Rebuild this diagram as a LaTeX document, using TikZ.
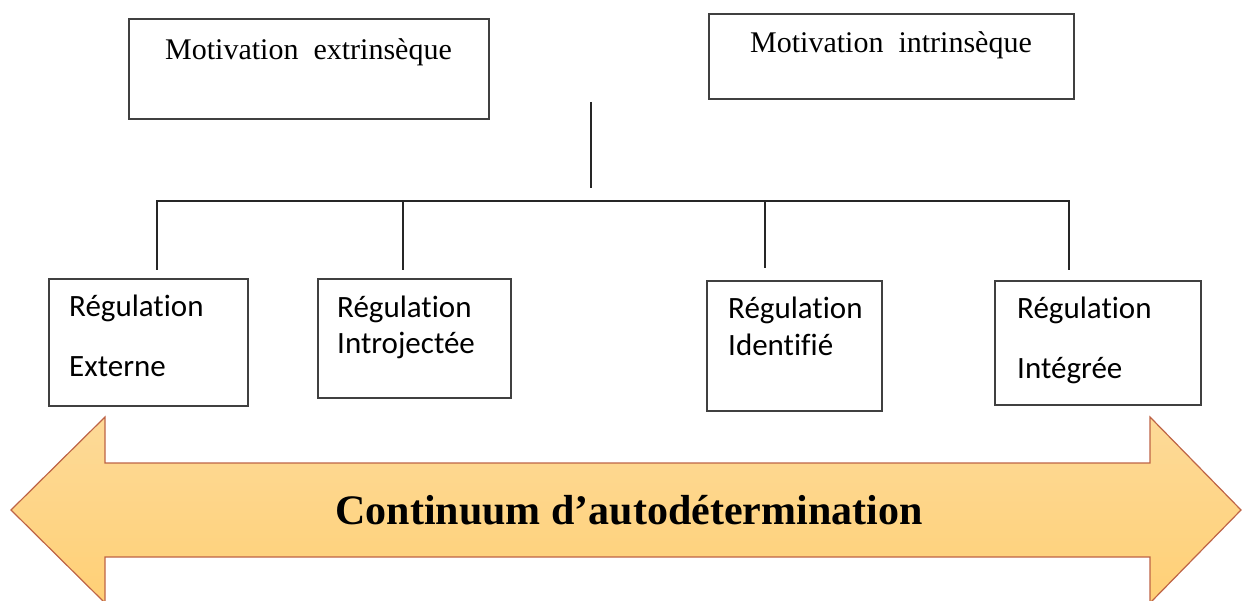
\documentclass[tikz,border=0pt]{standalone}
\usepackage{fontspec}
\setmainfont{Liberation Serif}
\newfontfamily\calibfont[Ligatures=NoCommon]{Carlito}
\definecolor{arrowtop}{RGB}{253,218,152}
\definecolor{arrowbottom}{RGB}{255,208,118}
\definecolor{arrowedge}{RGB}{190,100,70}
\begin{document}
\begin{tikzpicture}
[x=1pt,y=-1pt,
  boxdecorate/.style={draw=black!75,line width=1.6pt,anchor=north west,inner sep=0pt},%
  linedecorate/.style={-,line width=1.6pt,draw=black!85},%
  topfont/.style={font=\fontsize{30}{36}\selectfont,anchor=base west,inner sep=0pt},%
  regfont/.style={font=\calibfont\fontsize{31}{37}\selectfont,anchor=base west,inner sep=0pt,align=left},%
  arrowdecorate/.style={draw=arrowedge,line width=1.2pt,top color=arrowtop,bottom color=arrowbottom}]
\useasboundingbox (0,0) rectangle (1242,601);
%% boxes
\foreach \nodename/\x/\y/\w/\h in {
  mext/128/18/360/100, mint/708/13/365/85,
  rext/48/278/199/127, rintro/317/278/193/119,
  rident/706/280/175/130, rinteg/994/280/206/124}
{
  \node (\nodename) at (\x,\y) [boxdecorate,minimum width=\w pt,minimum height=\h pt] {};
}
%% texts (placed at the baseline of the second line)
\node (mexttext) at (165,60) [topfont] {Motivation\ \ extrinsèque};
\node (minttext) at (750,53) [topfont] {Motivation\ \ intrinsèque};
\foreach \nodename/\first/\second/\x/\y/\gap in {
  rext/Régulation/Externe/69/377/60, rintro/Régulation/Introjectée/337/354/36,
  rident/Régulation/Identifié/728/356/37, rinteg/Régulation/Intégrée/1017/378/60}
{
  \node (\nodename text) at (\x,\y) [regfont] {\first\\[\dimexpr\gap pt-37pt\relax]\second};
}
%% lines
\coordinate (stem) at (591,102);
\coordinate (stemend) at (591,188);
\coordinate (bar) at (591,201);
\foreach \dropname/\x/\y in {d1/157/270, d2/403/270, d3/765/268, d4/1069/270}
{
  \coordinate (\dropname) at (\x,\y);
}
\draw[linedecorate] (stem) -- (stemend);
\draw[linedecorate] (d1) -- (d1 |- bar) -- (d4 |- bar) -- (d4);
\foreach \dropname in {d2, d3}
{
  \draw[linedecorate] (\dropname) -- (\dropname |- bar);
}
%% continuum arrow
\draw[arrowdecorate] (11,510) -- (105,417) -- (105,463) -- (1150,463) -- (1150,417)
  -- (1241,510) -- (1150,603) -- (1150,557) -- (105,557) -- (105,603) -- cycle;
\node (continuum) at (629,524) [anchor=base,inner sep=0pt,font=\bfseries\fontsize{42}{50}\selectfont] {Continuum d’autodétermination};
\end{tikzpicture}
\end{document}
